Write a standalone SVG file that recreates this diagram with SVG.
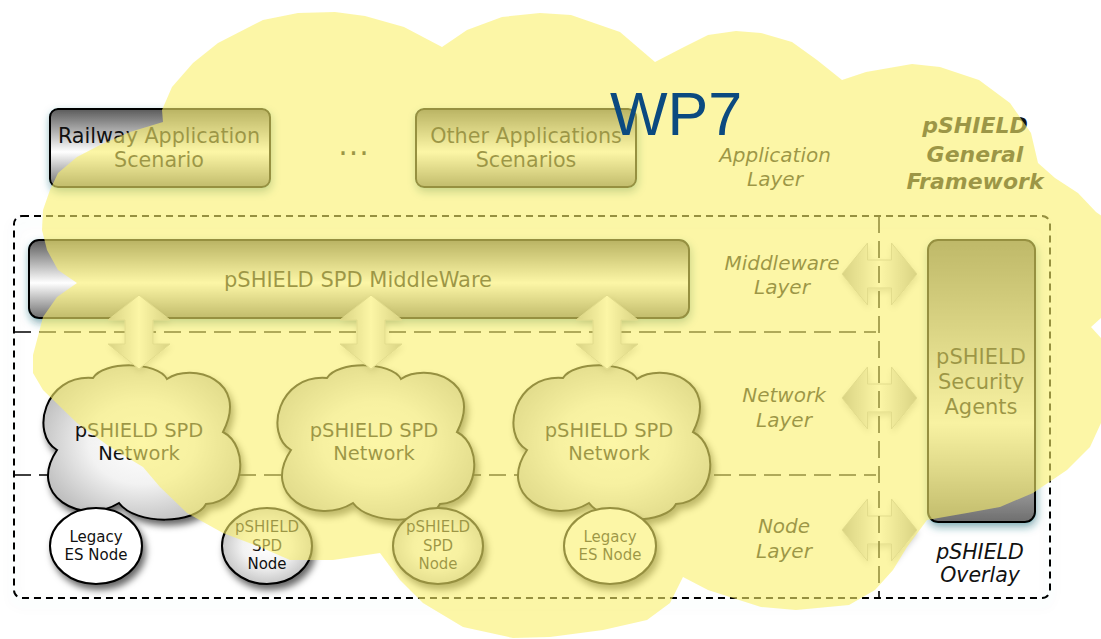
<svg xmlns="http://www.w3.org/2000/svg" width="1101" height="639" viewBox="0 0 1101 639">
<defs>
<style>
.t{font-family:'DejaVu Sans',Verdana,sans-serif;text-anchor:middle;fill:#111}
.it{font-style:italic}
.box{stroke:#000;stroke-width:2;fill:url(#gBox)}
.cloud{stroke:#000;stroke-width:2;fill:url(#gCloud)}
.arr{fill:url(#gArr);stroke:#bdbdbd;stroke-width:1}
.dl{fill:none;stroke:#000;stroke-width:1.6;stroke-dasharray:17 8}
</style>
<linearGradient id="gBox" x1="0" y1="0" x2="0" y2="1">
<stop offset="0" stop-color="#5a5a5a"/><stop offset="0.55" stop-color="#ffffff"/><stop offset="1" stop-color="#6e6e6e"/>
</linearGradient>
<linearGradient id="gSec" x1="0" y1="0" x2="0" y2="1">
<stop offset="0" stop-color="#666"/><stop offset="0.65" stop-color="#f5f5f5"/><stop offset="1" stop-color="#6e6e6e"/>
</linearGradient>
<radialGradient id="gCloud" cx="0.5" cy="0.5" r="0.6">
<stop offset="0" stop-color="#fff"/><stop offset="0.45" stop-color="#f2f2f2"/><stop offset="1" stop-color="#b5b5b5"/>
</radialGradient>
<linearGradient id="gArr" x1="0" y1="0" x2="1" y2="0">
<stop offset="0" stop-color="#a8a8a8"/><stop offset="0.5" stop-color="#ffffff"/><stop offset="1" stop-color="#a8a8a8"/>
</linearGradient>
<filter id="shT" x="-20%" y="-30%" width="140%" height="170%">
<feGaussianBlur in="SourceAlpha" stdDeviation="4"/><feOffset dx="1" dy="4" result="b"/>
<feFlood flood-color="#1d6a78" flood-opacity="0.55"/><feComposite in2="b" operator="in"/>
<feMerge><feMergeNode/><feMergeNode in="SourceGraphic"/></feMerge>
</filter>
<filter id="shK" x="-20%" y="-20%" width="150%" height="160%">
<feGaussianBlur in="SourceAlpha" stdDeviation="3.5"/><feOffset dx="3" dy="5" result="b"/>
<feFlood flood-color="#000" flood-opacity="0.6"/><feComposite in2="b" operator="in"/>
<feMerge><feMergeNode/><feMergeNode in="SourceGraphic"/></feMerge>
</filter>
<filter id="shA" x="-30%" y="-30%" width="160%" height="160%">
<feGaussianBlur in="SourceAlpha" stdDeviation="3"/><feOffset dx="1" dy="3" result="b"/>
<feFlood flood-color="#000" flood-opacity="0.2"/><feComposite in2="b" operator="in"/>
<feMerge><feMergeNode/><feMergeNode in="SourceGraphic"/></feMerge>
</filter>
<filter id="shF" x="-5%" y="-5%" width="110%" height="115%">
<feGaussianBlur in="SourceAlpha" stdDeviation="6"/><feOffset dx="0" dy="6" result="b"/>
<feFlood flood-color="#5a7f90" flood-opacity="0.15"/><feComposite in2="b" operator="in"/>
<feMerge><feMergeNode/><feMergeNode in="SourceGraphic"/></feMerge>
</filter>
<path id="cloudShape" d="M17,84 C-10,68 4,8 53,12 C63,-5 117,-5 127,13 C152,-4 210,14 183,66 C210,80 206,136 166,138 C156,158 96,160 79,137 C42,160 -14,130 17,84 Z"/>
<path id="vArrow" d="M0,-37 L31,-12 L14,-12 L14,12 L31,12 L0,37 L-31,12 L-14,12 L-14,-12 L-31,-12 Z"/>
<path id="hArrow" d="M-37.5,0 L-12,-31 L-12,-14 L12,-14 L12,-31 L37.5,0 L12,31 L12,14 L-12,14 L-12,31 Z"/>
</defs>
<rect width="1101" height="639" fill="#fff"/>

<g id="frame">
<rect x="14" y="216" width="1036" height="382" rx="8" fill="none" stroke="#000" stroke-width="2" stroke-dasharray="7 5" filter="url(#shF)"/>
<line class="dl" x1="14" y1="332" x2="876" y2="332"/>
<line class="dl" x1="14" y1="475" x2="876" y2="475"/>
</g>

<g id="railway">
<rect class="box" x="50" y="109" width="220" height="78" rx="8" filter="url(#shT)"/>
<text class="t" x="159" y="143" font-size="20.7">Railway Application</text>
<text class="t" x="159" y="167" font-size="20.7">Scenario</text>
</g>
<g id="ellipsis"><text class="t" x="354" y="155" font-size="30" letter-spacing="1">...</text></g>
<g id="other-apps">
<rect class="box" x="416" y="109" width="220" height="78" rx="8" filter="url(#shT)"/>
<text class="t" x="526" y="143" font-size="20.7">Other Applications</text>
<text class="t" x="526" y="167" font-size="20.7">Scenarios</text>
</g>
<g id="middleware">
<rect class="box" x="29" y="240" width="660" height="78" rx="10" filter="url(#shT)"/>
<text class="t" x="358" y="287" font-size="21">pSHIELD SPD MiddleWare</text>
</g>
<g id="security-agents">
<rect x="928" y="240" width="107" height="282" rx="10" fill="url(#gSec)" stroke="#000" stroke-width="2" filter="url(#shT)"/>
<text class="t" x="981" y="364" font-size="21">pSHIELD</text>
<text class="t" x="981" y="389" font-size="21">Security</text>
<text class="t" x="981" y="414" font-size="21">Agents</text>
</g>

<g id="cloud-1">
<use href="#cloudShape" class="cloud" transform="translate(40,366)" filter="url(#shK)"/>
<text class="t" x="139" y="437" font-size="19.5">pSHIELD SPD</text>
<text class="t" x="139" y="460" font-size="19.5">Network</text>
</g>
<g id="cloud-2">
<use href="#cloudShape" class="cloud" transform="translate(274,366)" filter="url(#shK)"/>
<text class="t" x="374" y="437" font-size="19.5">pSHIELD SPD</text>
<text class="t" x="374" y="460" font-size="19.5">Network</text>
</g>
<g id="cloud-3">
<use href="#cloudShape" class="cloud" transform="translate(510,366)" filter="url(#shK)"/>
<text class="t" x="609" y="437" font-size="19.5">pSHIELD SPD</text>
<text class="t" x="609" y="460" font-size="19.5">Network</text>
</g>

<g id="node-legacy-1">
<ellipse cx="96" cy="546" rx="46" ry="38" fill="#fff" stroke="#000" stroke-width="2" filter="url(#shK)"/>
<text class="t" x="96" y="542" font-size="15">Legacy</text>
<text class="t" x="96" y="560" font-size="15">ES Node</text>
</g>
<g id="node-spd-1">
<ellipse cx="267" cy="546" rx="45" ry="38" fill="url(#gCloud)" stroke="#000" stroke-width="2" filter="url(#shK)"/>
<text class="t" x="267" y="532" font-size="15">pSHIELD</text>
<text class="t" x="267" y="551" font-size="15">SPD</text>
<text class="t" x="267" y="569" font-size="15">Node</text>
</g>
<g id="node-spd-2">
<ellipse cx="438" cy="546" rx="45" ry="38" fill="url(#gCloud)" stroke="#000" stroke-width="2" filter="url(#shK)"/>
<text class="t" x="438" y="532" font-size="15">pSHIELD</text>
<text class="t" x="438" y="551" font-size="15">SPD</text>
<text class="t" x="438" y="569" font-size="15">Node</text>
</g>
<g id="node-legacy-2">
<ellipse cx="610" cy="546" rx="46" ry="38" fill="#fff" stroke="#000" stroke-width="2" filter="url(#shK)"/>
<text class="t" x="610" y="542" font-size="15">Legacy</text>
<text class="t" x="610" y="560" font-size="15">ES Node</text>
</g>

<g id="connectors">
<use href="#vArrow" class="arr" x="139" y="332" filter="url(#shA)"/>
<use href="#vArrow" class="arr" x="371" y="332" filter="url(#shA)"/>
<use href="#vArrow" class="arr" x="607" y="332" filter="url(#shA)"/>
<use href="#hArrow" class="arr" x="879.5" y="274" filter="url(#shA)"/>
<use href="#hArrow" class="arr" x="879.5" y="398" filter="url(#shA)"/>
<use href="#hArrow" class="arr" x="879.5" y="530" filter="url(#shA)"/>
<line class="dl" x1="879" y1="216" x2="879" y2="598"/>
</g>

<g id="labels">
<text class="t it" x="775" y="162" font-size="20">Application</text>
<text class="t it" x="775" y="186" font-size="20">Layer</text>
<text class="t it" x="782" y="270" font-size="20">Middleware</text>
<text class="t it" x="782" y="294" font-size="20">Layer</text>
<text class="t it" x="784" y="402" font-size="20">Network</text>
<text class="t it" x="784" y="427" font-size="20">Layer</text>
<text class="t it" x="784" y="533" font-size="20">Node</text>
<text class="t it" x="784" y="558" font-size="20">Layer</text>
<text class="t it" x="975" y="133" font-size="22" font-weight="bold">pSHIELD</text>
<text class="t it" x="975" y="162" font-size="22" font-weight="bold">General</text>
<text class="t it" x="975" y="189" font-size="22" font-weight="bold">Framework</text>
<text class="t it" x="980" y="559" font-size="20.5">pSHIELD</text>
<text class="t it" x="980" y="582" font-size="20.5">Overlay</text>
</g>

<g id="wp7-overlay">
<polygon fill="#FAF06A" fill-opacity="0.6" stroke-linejoin="round" points="163,122 162,110 172,87 193,63 218,43 263,20 298,13 335,12 365,16 404,27 442,47 467,30 502,17 540,13 571,15 620,32 655,62 684,47 708,35 736,31 761,33 792,42 817,60 842,80 866,72 912,64 940,67 979,80 1010,103 1031,133 1038,163 1055,178 1078,193 1096,212 1115,225 1115,315 1101,318 1091,327 1101,338 1115,340 1115,415 1101,423 1090,447 1067,470 1033,493 1000,507 967,513 927,520 907,547 893,570 875,590 849,605 796,610 761,607 708,590 683,577 670,603 647,620 603,630 550,637 513,638 463,627 423,603 400,580 380,553 333,560 290,560 260,547 223,533 187,513 160,487 143,467 110,447 77,423 43,390 33,373 33,355 37,340 43,317 57,297 77,283 58,270 47,250 42,230 43,210 50,190 58,173 77,157 100,145 130,132"/>
<text x="676" y="135" font-family="'Liberation Sans',Arial,sans-serif" font-size="61" fill="#0b4a80" text-anchor="middle">WP7</text>
</g>
</svg>
